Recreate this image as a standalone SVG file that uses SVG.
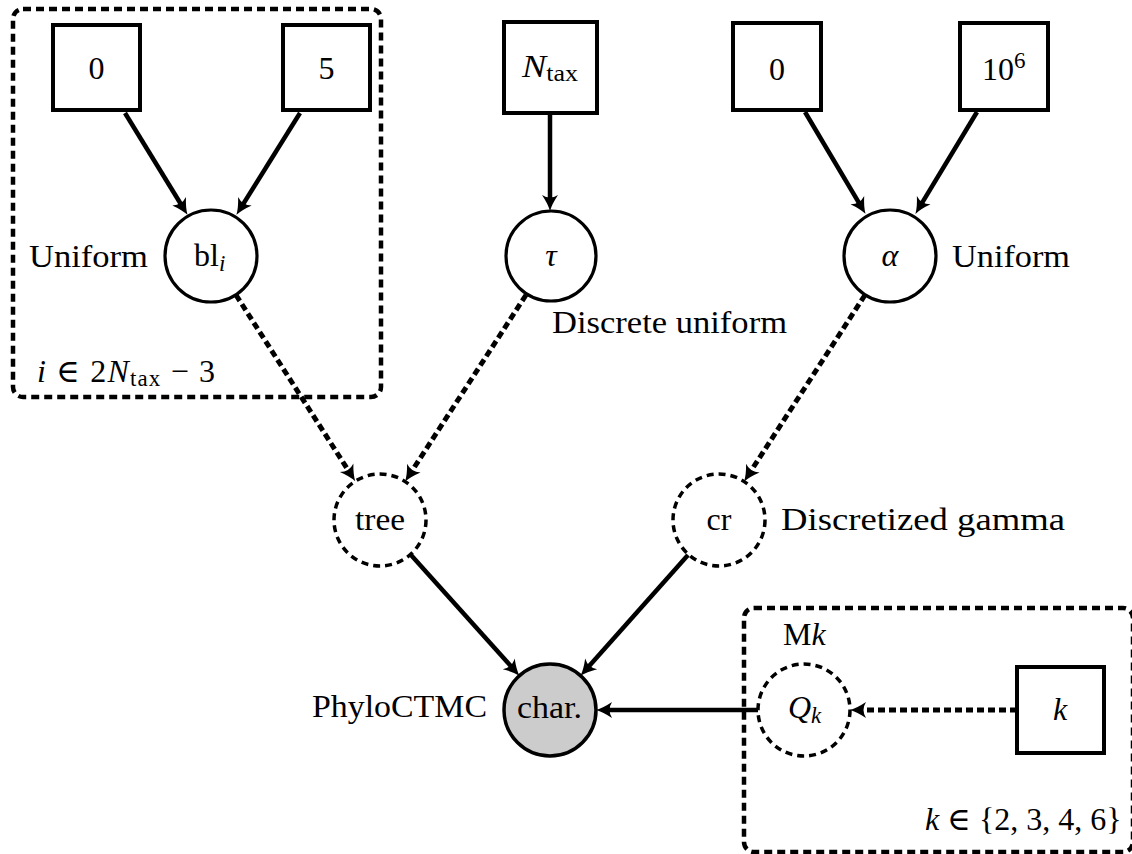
<svg xmlns="http://www.w3.org/2000/svg" width="1132" height="854" viewBox="0 0 1132 854" font-family="'Liberation Serif', 'DejaVu Serif', 'Times New Roman', serif">
<style>
text{font-family:'Liberation Serif','DejaVu Serif','Times New Roman',serif;font-size:32px;fill:#000}
.it{font-style:italic}
.sub{font-size:23px}
.box{fill:#fff;stroke:#000;stroke-width:4}
.node{fill:#fff;stroke:#000;stroke-width:3.2}
.dnode{fill:#fff;stroke:#000;stroke-width:3.5;stroke-dasharray:7 5}
.obs{fill:#ccc;stroke:#000;stroke-width:3.5}
.edge{fill:none;stroke:#000;stroke-width:4.5;marker-end:url(#arr)}
.dedge{fill:none;stroke:#000;stroke-width:5;stroke-dasharray:7 4;marker-end:url(#arr)}
.plate{fill:none;stroke:#000;stroke-width:4.5;stroke-dasharray:8 5}
</style>
<defs>
<marker id="arr" markerUnits="userSpaceOnUse" markerWidth="30" markerHeight="30" refX="0" refY="0" orient="auto" overflow="visible">
<path d="M9,0 Q2,-2 -7,-8 Q-2,0 -7,8 Q2,2 9,0 Z" fill="#000"/>
</marker>
</defs>

<g id="plates">
<rect id="plate-bl" class="plate" x="13" y="9" width="368" height="388" rx="10"/>
<rect id="plate-mk" class="plate" x="744" y="608" width="389" height="244" rx="10"/>
</g>

<g id="connectors">
<line class="edge" x1="125" y1="113" x2="182.8" y2="207.2"/>
<line class="edge" x1="300" y1="113" x2="241.2" y2="207.2"/>
<line class="edge" x1="550" y1="113" x2="550" y2="202"/>
<line class="edge" x1="805" y1="112" x2="860.9" y2="206.1"/>
<line class="edge" x1="977" y1="112" x2="920.1" y2="206.2"/>
<line class="dedge" x1="236" y1="295" x2="350.4" y2="473.7"/>
<line class="dedge" x1="526" y1="295" x2="410" y2="473.9"/>
<line class="dedge" x1="865" y1="295" x2="749" y2="473.9"/>
<line class="edge" x1="411" y1="555" x2="513.4" y2="669"/>
<line class="edge" x1="688" y1="555" x2="586.5" y2="669.1"/>
<line class="edge" x1="758" y1="710" x2="605" y2="710"/>
<line class="dedge" x1="1017" y1="710" x2="859" y2="710"/>
</g>

<g id="n-zero-left">
<rect class="box" x="53" y="25" width="87" height="85"/>
<text x="96.5" y="79" text-anchor="middle">0</text>
</g>
<g id="n-five">
<rect class="box" x="283" y="25" width="87" height="85"/>
<text x="326.5" y="79" text-anchor="middle">5</text>
</g>
<g id="n-ntax">
<rect class="box" x="504" y="22" width="93" height="91"/>
<text x="522" y="77" textLength="56" lengthAdjust="spacingAndGlyphs"><tspan class="it">N</tspan><tspan class="sub" dy="4">tax</tspan></text>
</g>
<g id="n-zero-right">
<rect class="box" x="733" y="23" width="88" height="87"/>
<text x="777" y="80" text-anchor="middle">0</text>
</g>
<g id="n-tensix">
<rect class="box" x="960" y="23" width="88" height="87"/>
<text x="982" y="80">10<tspan class="sub" dy="-12">6</tspan></text>
</g>

<g id="n-bl">
<circle class="node" cx="211" cy="256" r="46"/>
<text x="194" y="266">bl<tspan class="sub it" dy="5">i</tspan></text>
<text x="29" y="267" textLength="119" lengthAdjust="spacingAndGlyphs">Uniform</text>
</g>
<g id="n-tau">
<circle class="node" cx="551" cy="256" r="45"/>
<text class="it" x="551" y="266" text-anchor="middle" font-size="34">τ</text>
<text x="552" y="333" textLength="235" lengthAdjust="spacingAndGlyphs">Discrete uniform</text>
</g>
<g id="n-alpha">
<circle class="node" cx="890" cy="256" r="46"/>
<text class="it" x="890" y="266" text-anchor="middle" font-size="34">α</text>
<text x="952" y="267" textLength="118" lengthAdjust="spacingAndGlyphs">Uniform</text>
</g>

<g id="plate-bl-label">
<text x="37" y="382" textLength="178" lengthAdjust="spacing"><tspan class="it">i</tspan> ∈ 2<tspan class="it">N</tspan><tspan class="sub" dy="4">tax</tspan><tspan dy="-4"> − 3</tspan></text>
</g>

<g id="n-tree">
<circle class="dnode" cx="380" cy="520" r="46"/>
<text x="380" y="530" text-anchor="middle" textLength="50" lengthAdjust="spacingAndGlyphs">tree</text>
</g>
<g id="n-cr">
<circle class="dnode" cx="719" cy="520" r="46"/>
<text x="719" y="530" text-anchor="middle">cr</text>
<text x="781" y="530" textLength="284" lengthAdjust="spacingAndGlyphs">Discretized gamma</text>
</g>

<g id="n-char">
<circle class="obs" cx="550" cy="710" r="46"/>
<text x="517" y="718" textLength="65" lengthAdjust="spacingAndGlyphs">char.</text>
<text x="312" y="717" textLength="175" lengthAdjust="spacingAndGlyphs">PhyloCTMC</text>
</g>

<g id="n-qk">
<circle class="dnode" cx="804" cy="710" r="46"/>
<text x="788" y="718"><tspan class="it">Q</tspan><tspan class="sub it" dy="5">k</tspan></text>
</g>
<g id="n-k">
<rect class="box" x="1017" y="667" width="87" height="86"/>
<text class="it" x="1060" y="720" text-anchor="middle">k</text>
</g>

<g id="plate-mk-labels">
<text x="783" y="645">M<tspan class="it">k</tspan></text>
<text x="925" y="830"><tspan class="it">k</tspan> ∈ {2, 3, 4, 6}</text>
</g>
</svg>
